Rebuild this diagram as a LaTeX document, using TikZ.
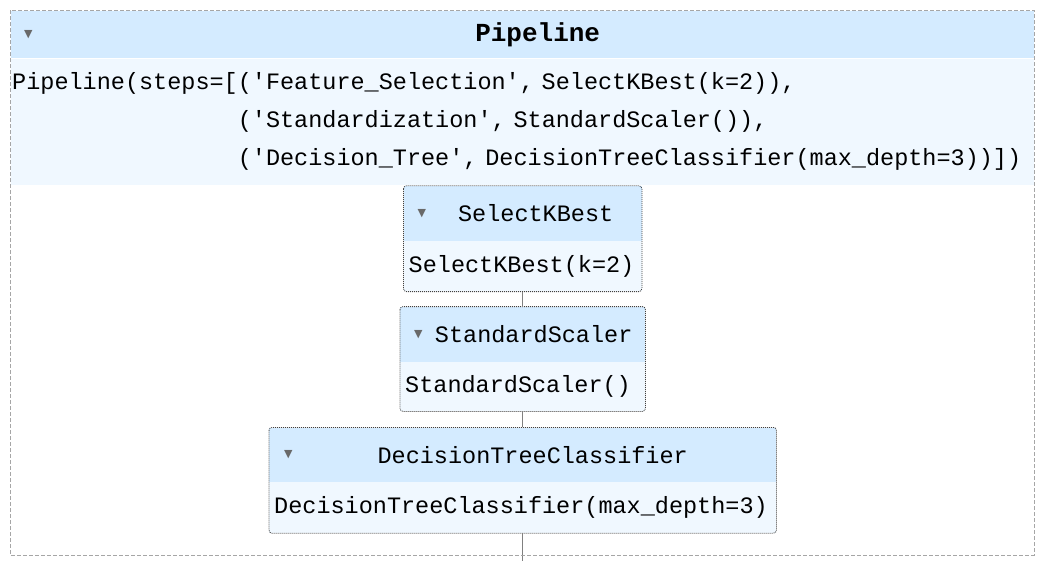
\documentclass[tikz,border=0pt]{standalone}
\usepackage{fontspec}
\setmonofont{Liberation Mono}
\newfontfamily\symfont{DejaVu Sans}
\usetikzlibrary{positioning}

\definecolor{headblue}{HTML}{D4EBFF}
\definecolor{bodyblue}{HTML}{F0F8FF}
\definecolor{togglegray}{HTML}{696969}

\begin{document}
\begin{tikzpicture}[
    x=1pt, y=-1pt,
    font=\ttfamily\fontsize{23.5}{38}\selectfont,
    head/.style={rectangle, fill=headblue, minimum height=55pt, inner sep=0pt},
    body/.style={rectangle, fill=bodyblue, minimum height=50pt, inner xsep=5pt, inner ysep=0pt, align=left},
    toggle/.style={text=togglegray, inner sep=0pt, font=\symfont\fontsize{11}{11}\selectfont},
    frame/.style={draw=black!75, dash pattern=on 1pt off 1pt, line width=0.8pt, rounded corners=3pt},
    line/.style={draw, gray, line width=1.3pt}
]
\useasboundingbox (0,0) rectangle (1043,560);

% pipeline
\node [head, anchor=north west, minimum width=1023pt, minimum height=47pt,
       font=\ttfamily\bfseries\fontsize{26}{30}\selectfont] (pipehead) at (11,11) {\hspace*{30pt}Pipeline};
\node [toggle, right=13pt of pipehead.west] (pipetoggle) {▼};
\node [body, below=0pt of pipehead, minimum height=126pt, inner xsep=1pt, text width=1021pt] (pipebody)
    {Pipeline(steps=[('Feature\_Selection', SelectKBest(k=2)),\\
     \hphantom{Pipeline(steps=[}('Standardization', StandardScaler()),\\
     \hphantom{Pipeline(steps=[}('Decision\_Tree', DecisionTreeClassifier(max\_depth=3))])};

% steps
\node [head, minimum width=238pt, below=1pt of pipebody] (skbhead) {\hspace*{26pt}SelectKBest};
\node [toggle, right=14pt of skbhead.west] (skbtoggle) {▼};
\node [body, text width=228pt, below=0pt of skbhead] (skbbody) {SelectKBest(k=2)};

\node [head, minimum width=245pt, below=15pt of skbbody] (ssshead) {\hspace*{22pt}StandardScaler};
\node [toggle, right=14pt of ssshead.west] (ssstoggle) {▼};
\node [body, text width=235pt, minimum height=49pt, below=0pt of ssshead] (sssbody) {StandardScaler()};

\node [head, minimum width=507pt, minimum height=54pt, below=16pt of sssbody] (dtchead) {\hspace*{20pt}DecisionTreeClassifier};
\node [toggle, right=15pt of dtchead.west] (dtctoggle) {▼};
\node [body, text width=497pt, minimum height=51pt, below=0pt of dtchead] (dtcbody) {DecisionTreeClassifier(max\_depth=3)};
\coordinate [below=30pt of dtcbody.south] (tail);

\draw [frame] (skbhead.north west) rectangle (skbbody.south east);
\draw [frame] (ssshead.north west) rectangle (sssbody.south east);
\draw [frame] (dtchead.north west) rectangle (dtcbody.south east);

\path [line] (skbbody) -- (ssshead);
\path [line] (sssbody) -- (dtchead);
\path [line] (dtcbody) -- (tail);

\draw [gray!70, dash pattern=on 4pt off 2pt, line width=1pt] (10,10) rectangle (1034,555);

\end{tikzpicture}
\end{document}
